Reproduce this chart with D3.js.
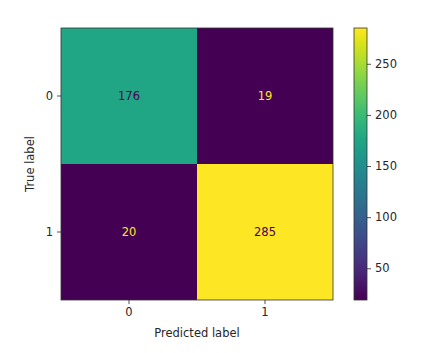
<!DOCTYPE html>
<html><head><meta charset="utf-8">
<script src="https://cdn.jsdelivr.net/npm/d3@7"></script>
<style>body{margin:0;background:#fff}text{font-family:"DejaVu Sans",sans-serif}</style>
</head><body>
<svg id="c" width="430" height="353"></svg>
<script>
const labels = ["0", "1"];
const matrix = [[176, 19], [20, 285]];
const cbTicks = [50, 100, 150, 200, 250];

const FS = 11.5;
const svg = d3.select("#c");
const L = 61, T = 28, S = 272;
const x = d3.scaleBand().domain(labels).range([L, L + S]);
const y = d3.scaleBand().domain(labels).range([T, T + S]);
const flat = matrix.flat();
const vmin = d3.min(flat), vmax = d3.max(flat);
const color = d3.scaleSequential(d3.interpolateViridis).domain([vmin, vmax]);

const cells = [];
matrix.forEach((row, i) => row.forEach((v, j) => cells.push({r: labels[i], c: labels[j], v})));

svg.selectAll("rect.cell").data(cells).join("rect")
  .attr("x", d => x(d.c)).attr("y", d => y(d.r))
  .attr("width", x.bandwidth()).attr("height", y.bandwidth())
  .attr("fill", d => color(d.v));

const mid = (vmin + vmax) / 2;
svg.selectAll("text.val").data(cells).join("text")
  .attr("x", d => x(d.c) + x.bandwidth() / 2).attr("y", d => y(d.r) + y.bandwidth() / 2)
  .attr("text-anchor", "middle").attr("dominant-baseline", "central")
  .attr("font-size", FS)
  .attr("fill", d => d.v < mid ? color(vmax) : color(vmin))
  .text(d => d.v);

svg.append("rect").attr("x", L).attr("y", T).attr("width", S).attr("height", S)
  .attr("fill", "none").attr("stroke", "#333").attr("stroke-width", 0.8);

const xAxis = svg.append("g").attr("transform", `translate(0,${T + S})`)
  .call(d3.axisBottom(x).tickSize(4).tickPadding(4));
const yAxis = svg.append("g").attr("transform", `translate(${L},0)`)
  .call(d3.axisLeft(y).tickSize(4).tickPadding(4));
[xAxis, yAxis].forEach(g => {
  g.select(".domain").remove();
  g.selectAll("text").attr("font-size", FS).attr("fill", "#262626").attr("font-family", "DejaVu Sans");
  g.selectAll("line").attr("stroke", "#262626").attr("stroke-width", 0.8);
});

svg.append("text").attr("x", L + S / 2).attr("y", 337).attr("text-anchor", "middle")
  .attr("font-size", FS).attr("fill", "#262626").text("Predicted label");
svg.append("text").attr("transform", `translate(34,${T + S / 2}) rotate(-90)`).attr("text-anchor", "middle")
  .attr("font-size", FS).attr("fill", "#262626").text("True label");

// colorbar
const cbX = 354, cbW = 13;
const cy = d3.scaleLinear().domain([vmin, vmax]).range([T + S, T]);
const defs = svg.append("defs");
const grad = defs.append("linearGradient").attr("id", "g").attr("x1", 0).attr("x2", 0).attr("y1", 1).attr("y2", 0);
d3.range(0, 1.0001, 0.05).forEach(t => grad.append("stop").attr("offset", t).attr("stop-color", d3.interpolateViridis(t)));
svg.append("rect").attr("x", cbX).attr("y", T).attr("width", cbW).attr("height", S)
  .attr("fill", "url(#g)").attr("stroke", "#333").attr("stroke-width", 0.8);
const cbAxis = svg.append("g").attr("transform", `translate(${cbX + cbW},0)`)
  .call(d3.axisRight(cy).tickValues(cbTicks).tickSize(4).tickPadding(4));
cbAxis.select(".domain").remove();
cbAxis.selectAll("text").attr("font-size", FS).attr("fill", "#262626").attr("font-family", "DejaVu Sans");
cbAxis.selectAll("line").attr("stroke", "#262626").attr("stroke-width", 0.8);
</script>
</body></html>
